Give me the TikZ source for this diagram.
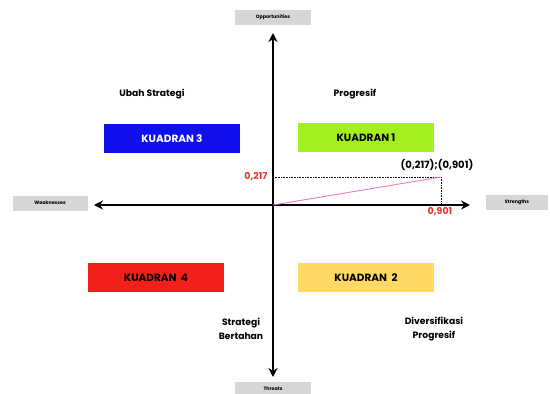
\documentclass[tikz,border=0pt]{standalone}
\usepackage{fontspec}
\setmainfont{Poppins}
\usetikzlibrary{positioning,arrows.meta}

\definecolor{kblue}{HTML}{1010EE}
\definecolor{kgreen}{HTML}{A2F01E}
\definecolor{kred}{HTML}{F22018}
\definecolor{kyellow}{HTML}{FFD964}
\definecolor{kgray}{HTML}{D6D6D6}
\definecolor{kpink}{HTML}{E67ACB}
\definecolor{kval}{HTML}{E8322E}

\begin{document}
\begin{tikzpicture}[x=1pt, y=-1pt,
      axisbox/.style={fill=kgray, minimum height=15pt, font=\fontsize{4.8}{5}\selectfont\bfseries, inner sep=0pt},
      kuadran/.style={minimum width=136pt, minimum height=29pt, font=\fontsize{10.5}{12}\selectfont\bfseries, inner sep=0pt},
      strat/.style={font=\fontsize{9.2}{13.5}\selectfont\bfseries, align=center},
      val/.style={font=\fontsize{9.5}{10}\selectfont\bfseries, text=kval}]
    \useasboundingbox (0,0) rectangle (550,394);
    \node (opp) [axisbox, minimum width=76pt] at (273,17) {Opportunities};
    \node (weak) [axisbox, minimum width=75pt] at (50,203) {Weaknesses};
    \node (str) [axisbox, minimum width=62pt] at (517,202) {Strengths};
    \node (thr) [axisbox, minimum width=76pt] at (273,389) {Threats};
    \coordinate (N) at (273,33);
    \coordinate (S) at (273,377);
    \coordinate (W) at (94,205);
    \coordinate (E) at (470,205);
    \coordinate (O) at (273,205);
    \coordinate (P) at (441,177);
    \draw[line width=1.7pt, {Stealth[length=9pt,width=9pt]}-{Stealth[length=9pt,width=9pt]}] (W) -- (E);
    \draw[line width=1.7pt, {Stealth[length=9pt,width=9pt]}-{Stealth[length=9pt,width=9pt]}] (N) -- (S);
    \node (k3) [kuadran, fill=kblue, text=white] at (172,138.5) {KUADRAN 3};
    \node (k1) [kuadran, fill=kgreen] at (366,137.5) {KUADRAN 1};
    \node (k4) [kuadran, fill=kred] at (156,277.5) {KUADRAN\ \ 4};
    \node (k2) [kuadran, fill=kyellow] at (366,277.5) {KUADRAN\ \ 2};
    \node (ubah) [strat] at (152,94) {Ubah Strategi};
    \node (prog) [strat] at (355,94) {Progresif};
    \node (bert) [strat] at (241,329) {Strategi\\Bertahan};
    \node (div) [strat] at (434,329) {Diversifikasi\\Progresif};
    \draw[densely dotted, line width=0.6pt] (O |- P) -- (P) -- (P |- O);
    \draw[kpink, line width=0.9pt] (O) -- (P);
    \node (y) [val, anchor=east] at (271,177) {0,217};
    \node (x) [val] at (440,212) {0,901};
    \node (pt) [font=\fontsize{10}{12}\selectfont\bfseries] at (437,165) {(0,217);(0,901)};
\end{tikzpicture}
\end{document}
